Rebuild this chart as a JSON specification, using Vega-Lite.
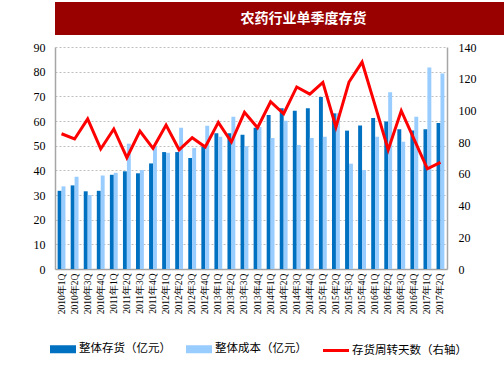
{
  "$schema": "https://vega.github.io/schema/vega-lite/v6.json",
  "padding": {"left": 3, "top": 2, "right": 0, "bottom": 0},
  "background": "white",
  "spacing": 6,
  "config": {
    "view": {"stroke": null},
    "font": "Liberation Serif",
    "axis": {"labelColor": "#000000", "labelFont": "Liberation Serif"}
  },
  "datasets": {
    "bars": [
      {"q": "2010年1Q", "s": "整体存货（亿元）", "v": 31.7}, {"q": "2010年1Q", "s": "整体成本（亿元）", "v": 33.5},
      {"q": "2010年2Q", "s": "整体存货（亿元）", "v": 33.9}, {"q": "2010年2Q", "s": "整体成本（亿元）", "v": 37.4},
      {"q": "2010年3Q", "s": "整体存货（亿元）", "v": 31.5}, {"q": "2010年3Q", "s": "整体成本（亿元）", "v": 30.0},
      {"q": "2010年4Q", "s": "整体存货（亿元）", "v": 31.7}, {"q": "2010年4Q", "s": "整体成本（亿元）", "v": 37.9},
      {"q": "2011年1Q", "s": "整体存货（亿元）", "v": 38.2}, {"q": "2011年1Q", "s": "整体成本（亿元）", "v": 39.0},
      {"q": "2011年2Q", "s": "整体存货（亿元）", "v": 39.6}, {"q": "2011年2Q", "s": "整体成本（亿元）", "v": 50.8},
      {"q": "2011年3Q", "s": "整体存货（亿元）", "v": 38.8}, {"q": "2011年3Q", "s": "整体成本（亿元）", "v": 40.1},
      {"q": "2011年4Q", "s": "整体存货（亿元）", "v": 42.8}, {"q": "2011年4Q", "s": "整体成本（亿元）", "v": 49.7},
      {"q": "2012年1Q", "s": "整体存货（亿元）", "v": 47.4}, {"q": "2012年1Q", "s": "整体成本（亿元）", "v": 47.1},
      {"q": "2012年2Q", "s": "整体存货（亿元）", "v": 47.4}, {"q": "2012年2Q", "s": "整体成本（亿元）", "v": 57.3},
      {"q": "2012年3Q", "s": "整体存货（亿元）", "v": 45.0}, {"q": "2012年3Q", "s": "整体成本（亿元）", "v": 49.0},
      {"q": "2012年4Q", "s": "整体存货（亿元）", "v": 49.7}, {"q": "2012年4Q", "s": "整体成本（亿元）", "v": 58.1},
      {"q": "2013年1Q", "s": "整体存货（亿元）", "v": 55.0}, {"q": "2013年1Q", "s": "整体成本（亿元）", "v": 53.6},
      {"q": "2013年2Q", "s": "整体存货（亿元）", "v": 55.0}, {"q": "2013年2Q", "s": "整体成本（亿元）", "v": 61.7},
      {"q": "2013年3Q", "s": "整体存货（亿元）", "v": 54.4}, {"q": "2013年3Q", "s": "整体成本（亿元）", "v": 49.8},
      {"q": "2013年4Q", "s": "整体存货（亿元）", "v": 57.3}, {"q": "2013年4Q", "s": "整体成本（亿元）", "v": 57.6},
      {"q": "2014年1Q", "s": "整体存货（亿元）", "v": 62.4}, {"q": "2014年1Q", "s": "整体成本（亿元）", "v": 53.1},
      {"q": "2014年2Q", "s": "整体存货（亿元）", "v": 65.2}, {"q": "2014年2Q", "s": "整体成本（亿元）", "v": 60.1},
      {"q": "2014年3Q", "s": "整体存货（亿元）", "v": 64.2}, {"q": "2014年3Q", "s": "整体成本（亿元）", "v": 50.3},
      {"q": "2014年4Q", "s": "整体存货（亿元）", "v": 65.2}, {"q": "2014年4Q", "s": "整体成本（亿元）", "v": 53.1},
      {"q": "2015年1Q", "s": "整体存货（亿元）", "v": 69.7}, {"q": "2015年1Q", "s": "整体成本（亿元）", "v": 53.6},
      {"q": "2015年2Q", "s": "整体存货（亿元）", "v": 63.1}, {"q": "2015年2Q", "s": "整体成本（亿元）", "v": 63.1},
      {"q": "2015年3Q", "s": "整体存货（亿元）", "v": 56.1}, {"q": "2015年3Q", "s": "整体成本（亿元）", "v": 42.7},
      {"q": "2015年4Q", "s": "整体存货（亿元）", "v": 58.2}, {"q": "2015年4Q", "s": "整体成本（亿元）", "v": 40.1},
      {"q": "2016年1Q", "s": "整体存货（亿元）", "v": 61.2}, {"q": "2016年1Q", "s": "整体成本（亿元）", "v": 53.6},
      {"q": "2016年2Q", "s": "整体存货（亿元）", "v": 59.8}, {"q": "2016年2Q", "s": "整体成本（亿元）", "v": 71.7},
      {"q": "2016年3Q", "s": "整体存货（亿元）", "v": 56.7}, {"q": "2016年3Q", "s": "整体成本（亿元）", "v": 51.6},
      {"q": "2016年4Q", "s": "整体存货（亿元）", "v": 56.1}, {"q": "2016年4Q", "s": "整体成本（亿元）", "v": 61.7},
      {"q": "2017年1Q", "s": "整体存货（亿元）", "v": 56.7}, {"q": "2017年1Q", "s": "整体成本（亿元）", "v": 81.7},
      {"q": "2017年2Q", "s": "整体存货（亿元）", "v": 59.2}, {"q": "2017年2Q", "s": "整体成本（亿元）", "v": 79.3}
    ],
    "days": [
      {"q": "2010年1Q", "d": 85.3}, {"q": "2010年2Q", "d": 82.0}, {"q": "2010年3Q", "d": 94.6}, {"q": "2010年4Q", "d": 75.7},
      {"q": "2011年1Q", "d": 88.3}, {"q": "2011年2Q", "d": 70.2}, {"q": "2011年3Q", "d": 87.0}, {"q": "2011年4Q", "d": 76.1},
      {"q": "2012年1Q", "d": 90.8}, {"q": "2012年2Q", "d": 75.2}, {"q": "2012年3Q", "d": 82.8}, {"q": "2012年4Q", "d": 76.9},
      {"q": "2013年1Q", "d": 92.5}, {"q": "2013年2Q", "d": 80.1}, {"q": "2013年3Q", "d": 98.8}, {"q": "2013年4Q", "d": 89.1},
      {"q": "2014年1Q", "d": 105.5}, {"q": "2014年2Q", "d": 97.9}, {"q": "2014年3Q", "d": 114.8}, {"q": "2014年4Q", "d": 110.3},
      {"q": "2015年1Q", "d": 117.7}, {"q": "2015年2Q", "d": 89.5}, {"q": "2015年3Q", "d": 117.9}, {"q": "2015年4Q", "d": 130.5},
      {"q": "2016年1Q", "d": 103.0}, {"q": "2016年2Q", "d": 75.2}, {"q": "2016年3Q", "d": 99.8}, {"q": "2016年4Q", "d": 81.5},
      {"q": "2017年1Q", "d": 63.2}, {"q": "2017年2Q", "d": 67.2}
    ],
    "title": [{"t": "农药行业单季度存货"}]
  },
  "vconcat": [
    {
      "width": 497,
      "height": 33,
      "view": {"fill": "#990000", "stroke": null},
      "data": {"name": "title"},
      "mark": {"type": "text", "color": "#FFFFFF", "fontSize": 14, "fontWeight": "bold", "font": "Noto Sans CJK SC"},
      "encoding": {"text": {"field": "t", "type": "nominal"}}
    },
    {
      "width": 392,
      "height": 222,
      "layer": [
        {
          "data": {"name": "bars"},
          "mark": {"type": "bar"},
          "encoding": {
            "x": {
              "field": "q", "type": "nominal", "sort": null,
              "scale": {"paddingInner": 0.4, "paddingOuter": 0.2},
              "axis": {"title": null, "labelAngle": -90, "labelAlign": "right", "labelBaseline": "middle", "labelFontSize": 9.5, "ticks": false, "labelPadding": 4, "labelOverlap": false, "domainColor": "#A6A6A6", "domainWidth": 1.5}
            },
            "xOffset": {"field": "s", "type": "nominal", "scale": {"domain": ["整体存货（亿元）", "整体成本（亿元）"], "paddingInner": 0, "paddingOuter": 0}},
            "y": {
              "field": "v", "type": "quantitative",
              "scale": {"domain": [0, 90], "nice": false},
              "axis": {
                "values": [0, 10, 20, 30, 40, 50, 60, 70, 80, 90],
                "grid": true, "gridDash": [2, 2], "gridColor": "#BFBFBF", "gridWidth": 1,
                "domainColor": "#A6A6A6", "domainWidth": 1.5, "ticks": false,
                "labelPadding": 10, "labelFontSize": 12,
                "title": " ", "titleX": -52, "titleY": 0, "titleAngle": 0, "titleAlign": "left", "titleBaseline": "middle"
              }
            },
            "color": {
              "field": "s", "type": "nominal",
              "scale": {"domain": ["整体存货（亿元）", "整体成本（亿元）", "存货周转天数（右轴）"], "range": ["#0070C0", "#99CCFF", "#FF0000"]},
              "legend": {
                "title": null, "orient": "none", "legendX": -5, "legendY": 334, "direction": "horizontal",
                "padding": 0, "columnPadding": 10, "labelOffset": 3,
                "labelFont": "Noto Sans CJK SC", "labelFontSize": 11.5, "labelColor": "#000000",
                "symbolSize": 529,
                "encode": {
                  "symbols": {
                    "update": {
                      "shape": {"signal": "datum.value === '存货周转天数（右轴）' ? 'M-1.13,0H1.13' : 'M-1,-0.22H1V0.22H-1Z'"},
                      "fill": {"signal": "datum.value === '存货周转天数（右轴）' ? 'transparent' : scale('color', datum.value)"},
                      "stroke": {"signal": "datum.value === '存货周转天数（右轴）' ? scale('color', datum.value) : 'transparent'"},
                      "strokeWidth": {"value": 3},
                      "opacity": {"value": 1},
                      "fillOpacity": {"value": 1}
                    }
                  }
                }
              }
            }
          }
        },
        {
          "data": {"name": "days"},
          "mark": {"type": "line", "strokeWidth": 3},
          "encoding": {
            "x": {"field": "q", "type": "nominal", "sort": null},
            "y": {
              "field": "d", "type": "quantitative",
              "scale": {"domain": [0, 140], "nice": false},
              "axis": {
                "orient": "right", "values": [0, 20, 40, 60, 80, 100, 120, 140],
                "grid": false, "ticks": false, "labelPadding": 11, "labelFontSize": 12,
                "domainColor": "#A6A6A6", "domainWidth": 1.5, "title": null
              }
            },
            "color": {"datum": "存货周转天数（右轴）"}
          }
        }
      ],
      "resolve": {"scale": {"y": "independent"}}
    }
  ]
}
